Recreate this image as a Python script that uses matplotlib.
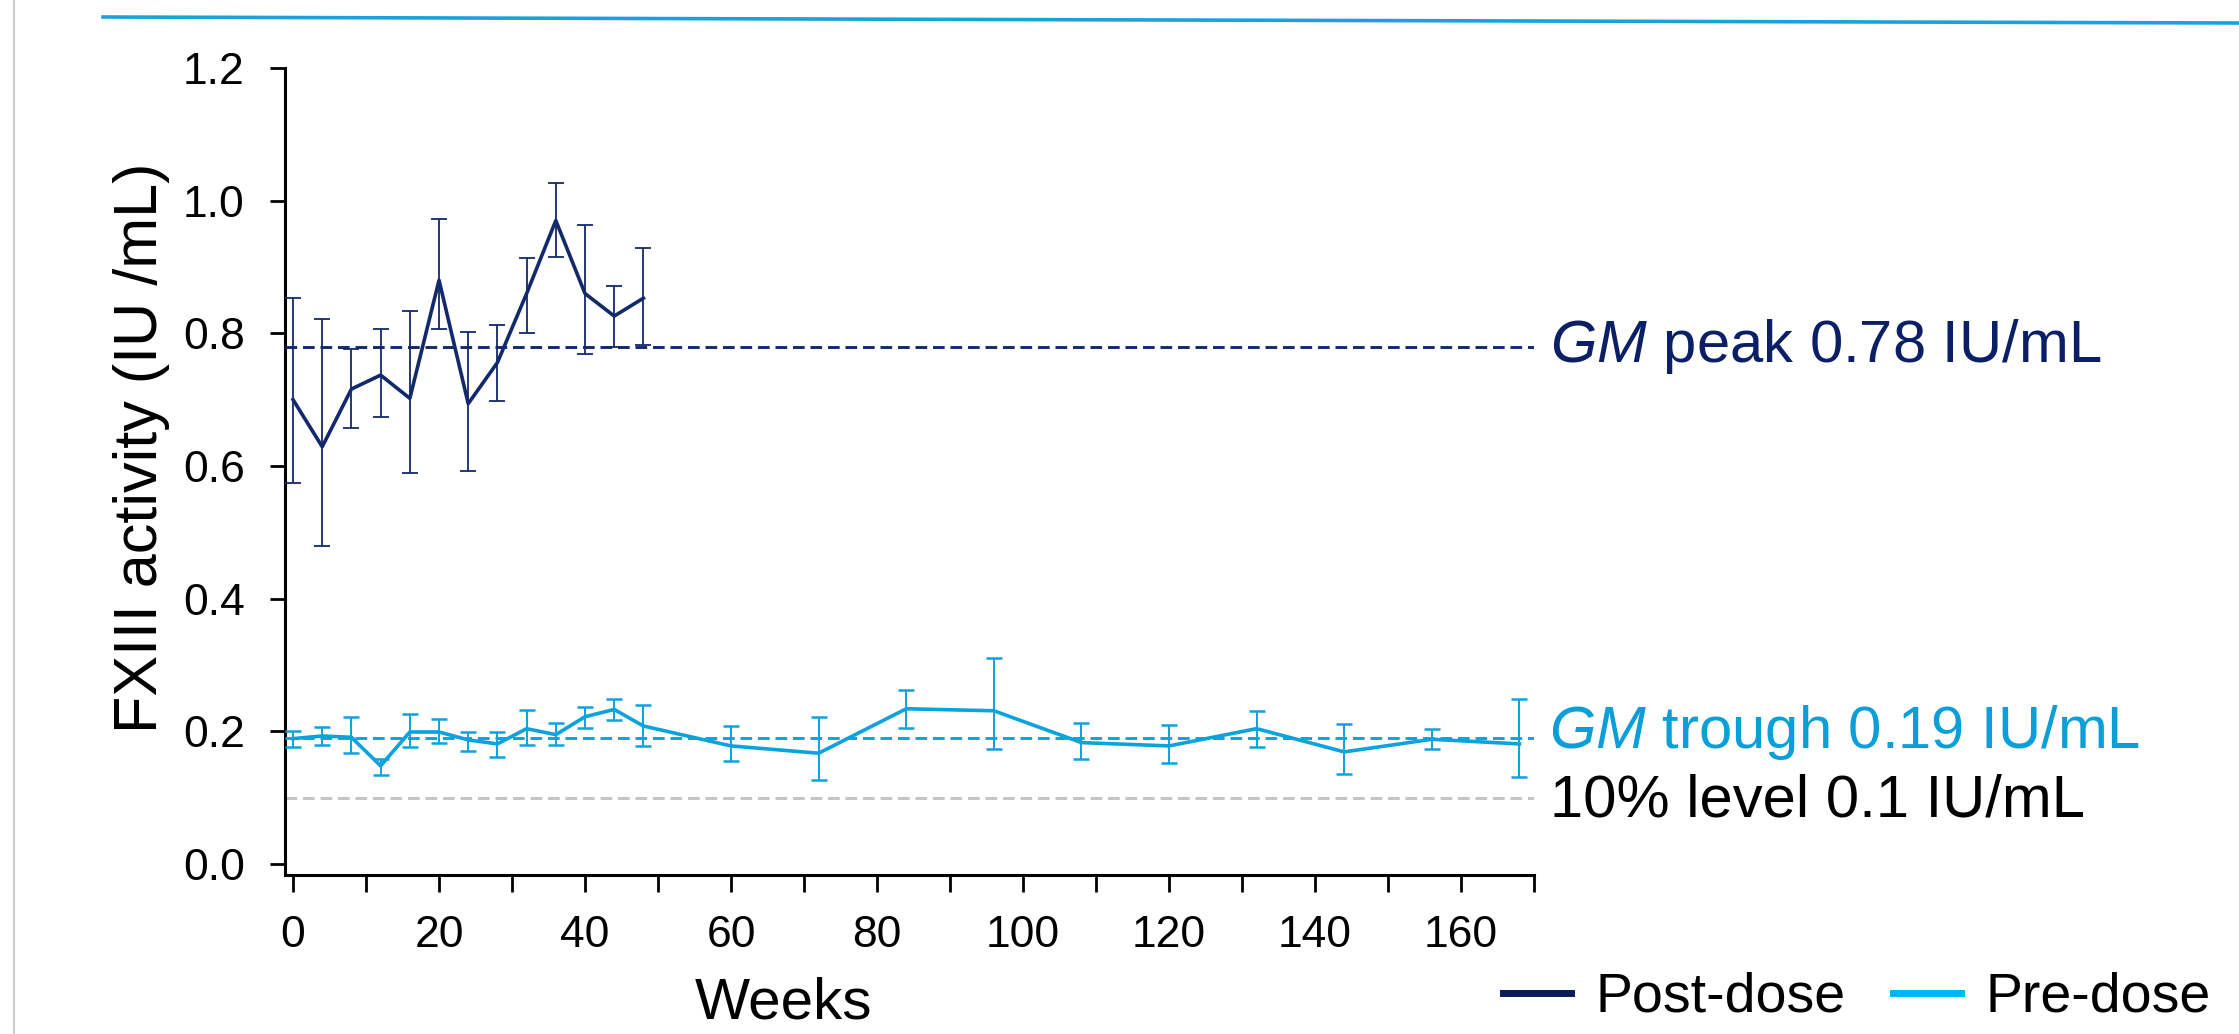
import numpy as np
import matplotlib
matplotlib.use("Agg")
import matplotlib.pyplot as plt
from matplotlib.lines import Line2D

plt.rcParams["font.family"] = ["Liberation Sans", "DejaVu Sans"]
plt.rcParams["mathtext.fontset"] = "custom"
plt.rcParams["mathtext.rm"] = "Liberation Sans"
plt.rcParams["mathtext.it"] = "Liberation Sans:italic"

# post-dose (peak) FXIII activity, IU/mL, with error-bar ends
post_weeks = [0, 4, 8, 12, 16, 20, 24, 28, 32, 36, 40, 44, 48]
post_mean = [0.700, 0.629, 0.716, 0.737, 0.702, 0.880, 0.694, 0.756, 0.860, 0.970, 0.860, 0.826, 0.853]
post_hi = [0.854, 0.821, 0.777, 0.806, 0.833, 0.972, 0.802, 0.813, 0.914, 1.027, 0.964, 0.872, 0.928]
post_lo = [0.574, 0.480, 0.657, 0.674, 0.590, 0.806, 0.592, 0.698, 0.800, 0.915, 0.769, 0.780, 0.783]

# pre-dose (trough)
pre_weeks = [0, 4, 8, 12, 16, 20, 24, 28, 32, 36, 40, 44, 48, 60, 72, 84, 96,
             108, 120, 132, 144, 156, 168]
pre_mean = [0.189, 0.193, 0.191, 0.148, 0.199, 0.199, 0.187, 0.181, 0.204, 0.195, 0.222, 0.233,
            0.208, 0.178, 0.167, 0.234, 0.231, 0.183, 0.178, 0.204, 0.169, 0.188, 0.181]
pre_hi = [0.201, 0.207, 0.221, 0.158, 0.226, 0.219, 0.199, 0.199, 0.232, 0.213, 0.237, 0.248,
          0.240, 0.208, 0.221, 0.263, 0.310, 0.213, 0.209, 0.231, 0.211, 0.204, 0.249]
pre_lo = [0.177, 0.179, 0.167, 0.134, 0.176, 0.183, 0.171, 0.161, 0.180, 0.180, 0.205, 0.217,
          0.178, 0.155, 0.126, 0.205, 0.173, 0.158, 0.152, 0.177, 0.136, 0.173, 0.131]

gm_peak = 0.78
gm_trough = 0.19
level_10 = 0.1

NAVY = "#12296B"
CYAN = "#0AA3DC"

fig = plt.figure(figsize=(22.39, 10.34), dpi=100)
ax = fig.add_axes([285 / 2239, 159 / 1034, 1249 / 2239, 807 / 1034])

pm = np.array(post_mean)
ax.errorbar(post_weeks, pm, yerr=[pm - np.array(post_lo), np.array(post_hi) - pm],
            color=NAVY, lw=2.6, elinewidth=1.3, capsize=6, capthick=1.3, zorder=3)
rm = np.array(pre_mean)
ax.errorbar(pre_weeks, rm, yerr=[rm - np.array(pre_lo), np.array(pre_hi) - rm],
            color=CYAN, lw=2.6, elinewidth=1.4, capsize=6, capthick=1.8, zorder=3)

ax.axhline(gm_peak, color=NAVY, lw=2.1, ls=(0, (4, 2)), zorder=4)
ax.axhline(gm_trough, color=CYAN, lw=2.1, ls=(0, (4, 2)), zorder=4)
ax.axhline(level_10, color="#C4C4C4", lw=2.1, ls=(0, (4, 2)), zorder=2)

ax.set_xlim(-1.1, 170)
ax.set_ylim(-0.0166, 1.2)
ax.set_xticks(np.arange(0, 161, 20))
ax.set_xticks(np.arange(10, 171, 20), minor=True)
ax.set_yticks(np.arange(0, 1.21, 0.2))
ax.set_yticklabels([f"{v:.1f}" for v in np.arange(0, 1.21, 0.2)])
ax.tick_params(axis="x", which="both", length=12, width=2, pad=17, labelsize=32)
ax.tick_params(axis="y", length=11, width=2, pad=18, labelsize=32)
for s in ["top", "right"]:
    ax.spines[s].set_visible(False)
for s in ["left", "bottom"]:
    ax.spines[s].set_linewidth(2.2)

ax.set_ylabel("FXIII activity (IU /mL)", fontsize=44, va="center")
ax.yaxis.set_label_coords(-0.115, 0.529)
# the slide crops this label at the bottom; keep it just inside the canvas
ax.set_xlabel("Weeks", fontsize=42, va="baseline")
ax.xaxis.set_label_coords(0.3995, -0.178)

ax.text(172.2, gm_peak, r"$\mathit{GM}$ peak 0.78 IU/mL", color="#0A1F66", fontsize=43,
        va="center", ha="left", clip_on=False)
ax.text(172.0, gm_trough + 0.008, r"$\mathit{GM}$ trough 0.19 IU/mL", color="#0A9FD8",
        fontsize=43, va="center", ha="left", clip_on=False)
ax.text(172.2, level_10 - 0.005, "10% level 0.1 IU/mL", color="black", fontsize=43,
        va="center", ha="left", clip_on=False)

handles = [Line2D([], [], color="#0B1A5A", lw=5),
           Line2D([], [], color="#00B6F2", lw=5)]
fig.legend(handles, ["Post-dose", "Pre-dose"], loc="center left",
           bbox_to_anchor=(1503 / 2239, 36 / 1034), ncol=2, frameon=False,
           fontsize=40, handlelength=1.22, handletextpad=0.45, columnspacing=0.85,
           borderpad=0, borderaxespad=0)

# slide decorations: header rule and left border
fig.add_artist(Line2D([103 / 2239, 1], [1 - 17 / 1034, 1 - 23 / 1034],
                      transform=fig.transFigure, color="#1BA1DB", lw=2.6))
fig.add_artist(Line2D([14 / 2239, 14 / 2239], [0, 1],
                      transform=fig.transFigure, color="#CCCCCC", lw=1.5))

fig.savefig("out.png", dpi=100)
